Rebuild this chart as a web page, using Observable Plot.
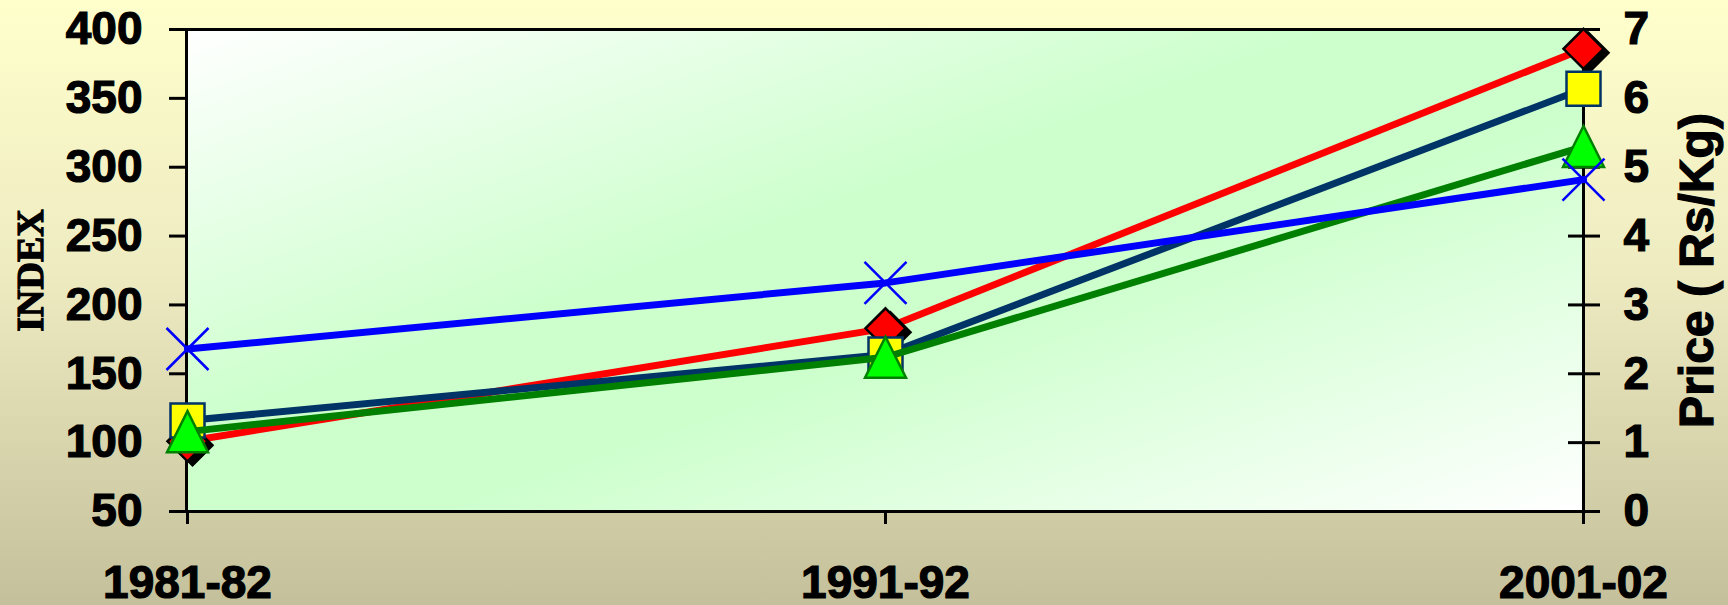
<!DOCTYPE html>
<html><head><meta charset="utf-8">
<script src="https://cdn.jsdelivr.net/npm/d3@7"></script>
<script src="https://cdn.jsdelivr.net/npm/@observablehq/plot@0.6"></script>
<style>
html,body{margin:0;padding:0;overflow:hidden;}
body{width:1728px;height:605px;background:linear-gradient(to bottom,#FFFFCC 0%,#EEEBC1 45%,#C4C09B 100%);}
svg{display:block}
svg text{stroke:#000;stroke-width:1.2px;paint-order:stroke;}
</style></head><body><div id="chart"></div>
<script>
// ---- data ----
const years = ["1981-82", "1991-92", "2001-02"];
const seriesNames = ["Series 1", "Series 2", "Series 3", "Series 4"];
const series1 = [101, 183, 386];   // red, diamond
const series2 = [116, 164, 357];   // navy, yellow square
const series3 = [108, 162, 315];   // green, triangle
const series4 = [168, 216, 291];   // blue, cross
const indexTicks = [50, 100, 150, 200, 250, 300, 350, 400];
const priceTickLabels = ["0", "1", "2", "3", "4", "5", "6", "7"];
const leftTitle = "INDEX";
const rightTitle = "Price ( Rs/Kg)";

const table = vals => years.map((yr, i) => ({year: yr, value: vals[i]}));

// ---- symbols ----
const rOf = size => Math.sqrt(size / Math.PI);
const diamondSym = {draw(c, s) {const r = rOf(s); c.moveTo(0, -r); c.lineTo(r, 0); c.lineTo(0, r); c.lineTo(-r, 0); c.closePath();}};
const squareSym = {draw(c, s) {const r = rOf(s) * 0.85; c.moveTo(-r, -r); c.lineTo(r, -r); c.lineTo(r, r); c.lineTo(-r, r); c.closePath();}};
const triangleSym = {draw(c, s) {const r = rOf(s); c.moveTo(0, -r); c.lineTo(r, r); c.lineTo(-r, r); c.closePath();}};
const timesSym = {draw(c, s) {const r = rOf(s); c.moveTo(-r, -r); c.lineTo(r, r); c.moveTo(-r, r); c.lineTo(r, -r);}};

const styles = [
  {vals: series1, line: "#FF0000", symbol: diamondSym, fill: "#FF0000", stroke: "#000000", sw: 2.5, r: 20, shadow: true},
  {vals: series2, line: "#003366", symbol: squareSym, fill: "#FFFF00", stroke: "#003366", sw: 2.5, r: 20},
  {vals: series3, line: "#008000", symbol: triangleSym, fill: "#00FF00", stroke: "#008000", sw: 2.5, r: 20.5},
  {vals: series4, line: "#0000FF", symbol: timesSym, fill: "none", stroke: "#0000FF", sw: 2.5, r: 21}
];

const seriesMarks = [];
styles.forEach(st => {
  const d = table(st.vals);
  seriesMarks.push(Plot.line(d, {x: "year", y: "value", stroke: st.line, strokeWidth: 7}));
  if (st.shadow) seriesMarks.push(Plot.dot(d, {x: "year", y: "value", symbol: st.symbol, r: st.r, fill: "#000", stroke: "#000", strokeWidth: st.sw, dx: 5, dy: 4}));
  seriesMarks.push(Plot.dot(d, {x: "year", y: "value", symbol: st.symbol, r: st.r, fill: st.fill, stroke: st.stroke, strokeWidth: st.sw}));
});

const svg = Plot.plot({
  width: 1728, height: 605,
  marginLeft: 186, marginRight: 145, marginTop: 29, marginBottom: 94,
  x: {type: "point", domain: years, padding: 0},
  y: {domain: [50, 400]},
  style: {background: "transparent", fontFamily: "'Liberation Sans', Arial, sans-serif", fontWeight: "bold", color: "black", overflow: "visible"},
  marks: [
    Plot.frame({fill: "url(#plotGrad)"}),
    Plot.frame({stroke: "black", strokeWidth: 3}),
    Plot.axisY({anchor: "left", ticks: indexTicks, tickSize: 17, tickPadding: 27, fontSize: 46, strokeWidth: 3, label: null}),
    Plot.axisY({anchor: "right", ticks: indexTicks, tickSize: 32, dx: -16, tickFormat: () => "", strokeWidth: 3, label: null}),
    Plot.axisY({anchor: "right", ticks: indexTicks, tickSize: 0, tickPadding: 40, fontSize: 46, label: null,
      tickFormat: d => priceTickLabels[indexTicks.indexOf(d)]}),
    Plot.axisX({anchor: "bottom", tickSize: 13, tickPadding: 41, fontSize: 46, strokeWidth: 3, label: null}),
    Plot.text([leftTitle], {frameAnchor: "left", dx: -156, rotate: -90, fontSize: 38, fontWeight: "bold",
      fontFamily: "'Liberation Serif', 'Times New Roman', serif", textAnchor: "middle", lineAnchor: "middle", fill: "black"}),
    Plot.text([rightTitle], {frameAnchor: "right", dx: 114, rotate: -90, fontSize: 48, fontWeight: "bold",
      textAnchor: "middle", lineAnchor: "middle", fill: "black"}),
    ...seriesMarks
  ]
});

const ns = "http://www.w3.org/2000/svg";
const defs = document.createElementNS(ns, "defs");
defs.innerHTML = '<linearGradient id="plotGrad" x1="0" y1="0" x2="1" y2="1"><stop offset="0" stop-color="#ffffff"/><stop offset="0.42" stop-color="#ccffcc"/><stop offset="0.58" stop-color="#ccffcc"/><stop offset="1" stop-color="#ffffff"/></linearGradient>';
svg.insertBefore(defs, svg.firstChild);
document.getElementById("chart").appendChild(svg);
</script>
</body></html>
